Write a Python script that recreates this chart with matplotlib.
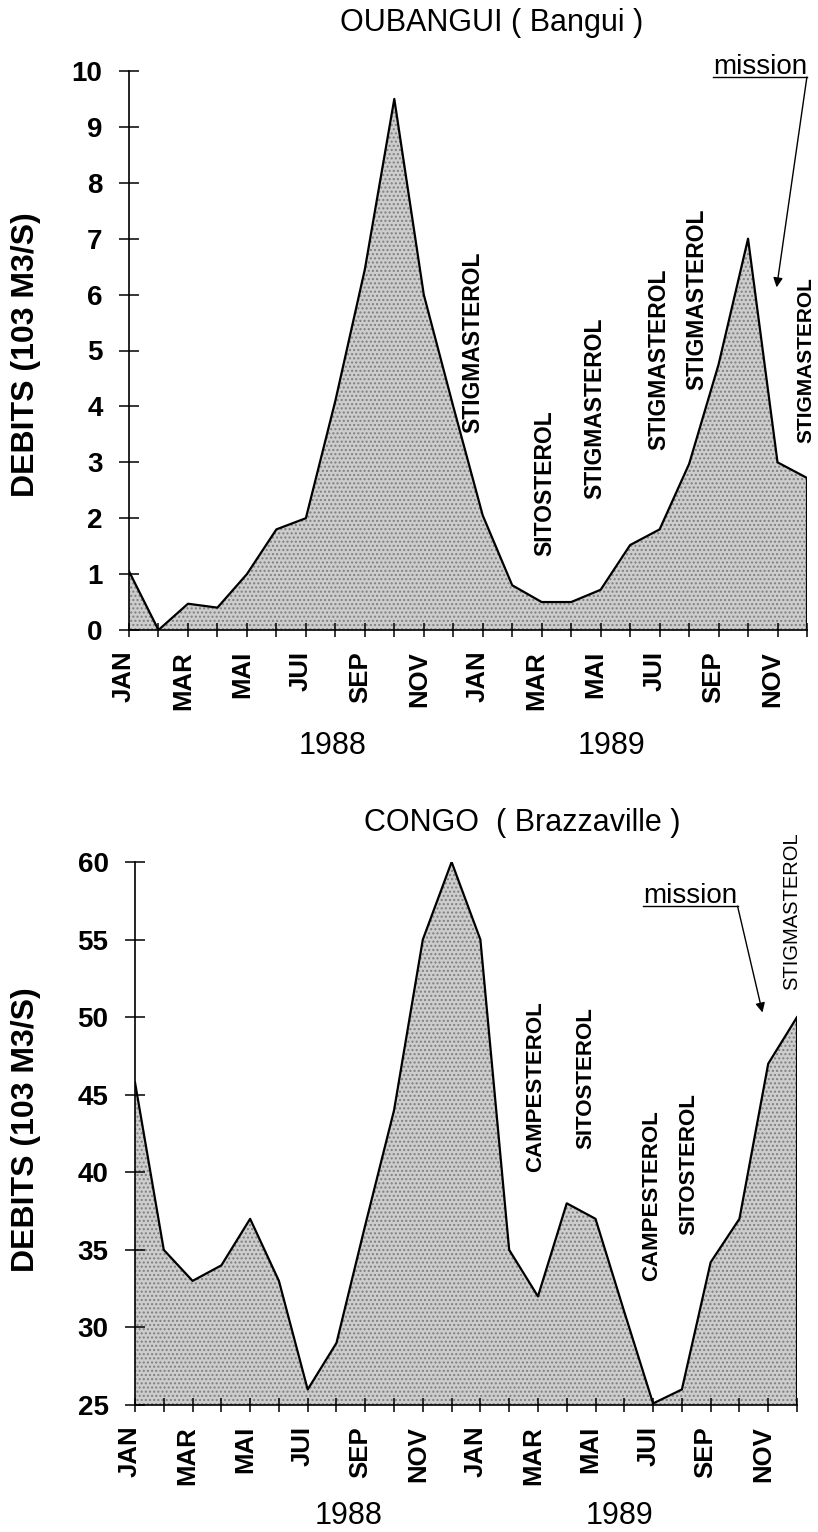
import matplotlib
matplotlib.use('Agg')
import matplotlib.pyplot as plt
import matplotlib.transforms as mtransforms

plt.rcParams['font.family'] = ['Liberation Sans', 'DejaVu Sans']

# monthly discharge, Jan 1988 .. Dec 1989
months = list(range(24))
month_labels = ['JAN', '', 'MAR', '', 'MAI', '', 'JUI', '', 'SEP', '', 'NOV', '',
                'JAN', '', 'MAR', '', 'MAI', '', 'JUI', '', 'SEP', '', 'NOV', '']
oubangui = [1.05, 0.0, 0.47, 0.40, 1.0, 1.8, 2.0, 4.1, 6.45, 9.5, 6.0, 4.0,
            2.05, 0.8, 0.5, 0.5, 0.72, 1.52, 1.8, 2.97, 4.75, 7.0, 3.0, 2.72]
congo = [45.8, 35.0, 33.0, 34.0, 37.0, 33.0, 26.0, 29.0, 36.6, 44.0, 55.0, 60.0,
         55.0, 35.0, 32.0, 38.0, 37.0, 31.0, 25.1, 26.0, 34.2, 37.0, 47.0, 50.0]
years = ['1988', '1989']

# sterol annotations: (label, month index, value, fontsize, weight)
oub_notes = [('STIGMASTEROL', 11.66, 5.15, 16.5, 'bold'),
             ('SITOSTEROL', 14.1, 2.63, 16.5, 'bold'),
             ('STIGMASTEROL', 15.8, 3.97, 16.5, 'bold'),
             ('STIGMASTEROL', 17.97, 4.85, 16.5, 'bold'),
             ('STIGMASTEROL', 19.25, 5.92, 16.5, 'bold'),
             ('STIGMASTEROL', 22.98, 4.83, 15, 'bold')]
congo_notes = [('CAMPESTEROL', 13.92, 45.5, 16, 'bold'),
               ('SITOSTEROL', 15.66, 46.1, 16, 'bold'),
               ('CAMPESTEROL', 17.95, 38.5, 16, 'bold'),
               ('SITOSTEROL', 19.24, 40.5, 16, 'bold'),
               ('STIGMASTEROL', 22.81, 56.8, 14.5, 'normal')]

W, H = 818, 1532
fig = plt.figure(figsize=(W / 100, H / 100), dpi=100)


def px_axes(l, r, t, b):
    return fig.add_axes([l / W, 1 - b / H, (r - l) / W, (b - t) / H])


def draw_panel(ax, y, ymin, ymax, yticks, notes, mission_xy, arrow_end):
    ax.fill_between(months, ymin, y, facecolor='#cdcdcd', edgecolor='#7f7f7f',
                    hatch='....', linewidth=0, zorder=1)
    ax.plot(months, y, color='black', lw=1.6, zorder=3)
    ax.vlines(months[-1], ymin, y[-1], color='black', lw=1.6, zorder=3)
    ax.set_xlim(months[0], months[-1])
    ax.set_ylim(ymin, ymax)
    ax.set_axisbelow(False)
    for s in ['top', 'right']:
        ax.spines[s].set_visible(False)
    for s in ['left', 'bottom']:
        ax.spines[s].set_linewidth(1.2)
        ax.spines[s].set_zorder(5)
    ax.set_xticks(months)
    ax.set_xticklabels(month_labels, rotation=90, fontsize=18.5, fontweight='bold')
    ax.set_yticks(yticks)
    ax.set_yticklabels([str(v) for v in yticks], fontsize=20, fontweight='bold')
    ax.tick_params(axis='x', direction='inout', length=10, width=1.1, pad=10)
    ax.tick_params(axis='y', direction='inout', length=14, width=1.1, pad=12)
    off = mtransforms.ScaledTranslation(-5 / 100, 0, fig.dpi_scale_trans)
    for lab in ax.get_xticklabels():
        lab.set_transform(lab.get_transform() + off)
    for txt, xm, yv, fs, fw in notes:
        ax.text(xm, yv, txt, rotation=90, ha='center', va='center',
                fontsize=fs, fontweight=fw, zorder=4)
    # "mission" label, underlined, with arrow
    t = ax.text(mission_xy[0], mission_xy[1], 'mission', ha='center', va='center',
                fontsize=20, clip_on=False, zorder=4)
    fig.canvas.draw()
    bb = t.get_window_extent(fig.canvas.get_renderer())
    inv = ax.transData.inverted()
    (x0, yb), (x1, _) = inv.transform([[bb.x0, bb.y0 + 3], [bb.x1, bb.y0 + 3]])
    ax.plot([x0, x1], [yb, yb], color='black', lw=1.0, clip_on=False)
    ax.annotate('', xy=arrow_end, xytext=(x1, yb), annotation_clip=False,
                arrowprops=dict(arrowstyle='-|>', color='black', lw=1.0,
                                mutation_scale=14, shrinkA=0, shrinkB=0))


ax1 = px_axes(129, 807, 71, 630)
draw_panel(ax1, oubangui, 0, 10, list(range(0, 11)), oub_notes,
           (21.4, 10.07), (21.97, 6.13))
ax2 = px_axes(135, 797, 862, 1405)
draw_panel(ax2, congo, 25, 60, list(range(25, 61, 5)), congo_notes,
           (19.3, 57.8), (21.8, 50.3))

# titles, axis labels, years (figure pixel positions)
def ftext(x, y, s, **kw):
    fig.text(x / W, 1 - y / H, s, ha='center', va='center', **kw)


ftext(492, 23, 'OUBANGUI ( Bangui )', fontsize=22)
ftext(522, 823, 'CONGO  ( Brazzaville )', fontsize=22)
ftext(26, 355, 'DEBITS (103 M3/S)', rotation=90, fontsize=23, fontweight='bold')
ftext(26, 1130, 'DEBITS (103 M3/S)', rotation=90, fontsize=23, fontweight='bold')
ftext(333, 746, years[0], fontsize=22)
ftext(611, 746, years[1], fontsize=22)
ftext(349, 1516, years[0], fontsize=22)
ftext(620, 1516, years[1], fontsize=22)

fig.savefig('out.png', dpi=100)
